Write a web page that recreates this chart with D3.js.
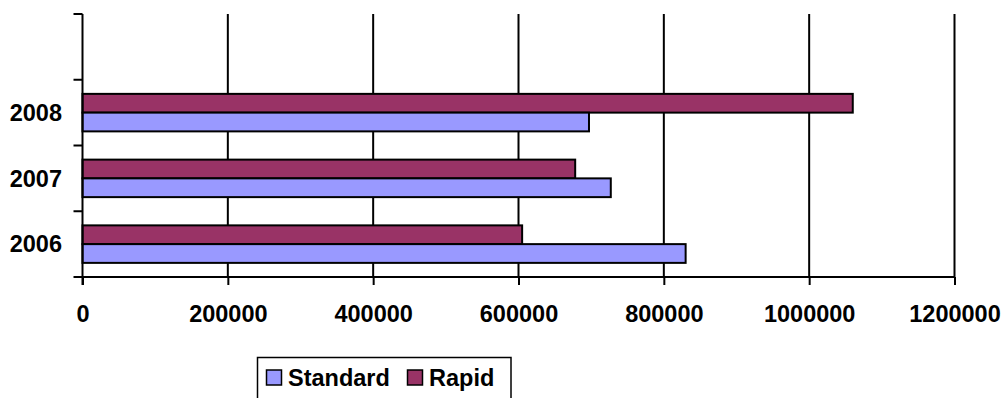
<!DOCTYPE html>
<html>
<head>
<meta charset="utf-8">
<script src="https://cdn.jsdelivr.net/npm/d3@7"></script>
<style>
  html, body { margin: 0; padding: 0; background: #fff; }
  svg { display: block; }
  text { font-family: Arial, "Liberation Sans", sans-serif; font-weight: bold; fill: #000; }
</style>
</head>
<body>
<svg id="chart" width="1003" height="398"></svg>
<script>
// Data (categories listed top to bottom; the top band is empty)
const categories = ["", "2008", "2007", "2006"];
const seriesNames = ["Rapid", "Standard"];
const standardValues = [null, 697000, 727000, 830000];
const rapidValues = [null, 1060000, 678000, 605000];
const xTicks = [0, 200000, 400000, 600000, 800000, 1000000, 1200000];
const legendNames = ["Standard", "Rapid"];
const colors = { Standard: "#9999FF", Rapid: "#993366" };

(function () {
const svg = d3.select("#chart");
const pLeft = 82.5, pRight = 954.5, pTop = 14, pBottom = 277;

const x = d3.scaleLinear().domain([0, 1200000]).range([pLeft, pRight]);
const y = d3.scaleBand().domain(categories).range([pTop, pBottom]).padding(0);
const inner = d3.scaleBand().domain(seriesNames).range([0, y.bandwidth()])
  .paddingInner(0).paddingOuter(0.753);

// Gridlines
svg.append("g").selectAll("line").data(xTicks.slice(1)).join("line")
  .attr("x1", d => x(d)).attr("x2", d => x(d))
  .attr("y1", pTop).attr("y2", pBottom)
  .attr("stroke", "#000").attr("stroke-width", 2);

// Bars
const values = { Standard: standardValues, Rapid: rapidValues };
const barData = [];
categories.forEach((c, i) => {
  seriesNames.forEach(s => {
    const v = values[s][i];
    if (v != null) barData.push({ c, s, v });
  });
});
svg.append("g").selectAll("rect").data(barData).join("rect")
  .attr("x", x(0))
  .attr("y", d => y(d.c) + inner(d.s))
  .attr("width", d => x(d.v) - x(0))
  .attr("height", inner.bandwidth())
  .attr("fill", d => colors[d.s])
  .attr("stroke", "#000").attr("stroke-width", 2);

// X axis
const xAxis = svg.append("g").attr("transform", `translate(0,${pBottom})`)
  .call(d3.axisBottom(x).tickValues(xTicks).tickSize(8).tickFormat(d3.format("d")));
xAxis.select(".domain").attr("stroke", "#000").attr("stroke-width", 2)
  .attr("d", `M${pLeft},0H${pRight}`);
xAxis.selectAll(".tick line").attr("stroke", "#000").attr("stroke-width", 2);
xAxis.selectAll(".tick text").attr("font-size", "23.5px")
  .attr("font-family", "Arial, 'Liberation Sans', sans-serif").attr("font-weight", "bold")
  .attr("fill", "#000").attr("dy", null).attr("y", 44.5);

// Y axis line
svg.append("line").attr("x1", pLeft).attr("x2", pLeft).attr("y1", pTop).attr("y2", pBottom + 8)
  .attr("stroke", "#000").attr("stroke-width", 2);
// Y ticks at band boundaries
const yBounds = categories.map(c => y(c)).concat([pBottom]);
svg.append("g").selectAll("line").data(yBounds).join("line")
  .attr("x1", pLeft - 9).attr("x2", pLeft)
  .attr("y1", d => d).attr("y2", d => d)
  .attr("stroke", "#000").attr("stroke-width", 2);
// Y labels
svg.append("g").selectAll("text").data(categories).join("text")
  .attr("x", 62).attr("y", d => y(d) + y.bandwidth() / 2)
  .attr("dy", "0.35em").attr("text-anchor", "end")
  .attr("font-size", "23.5px")
  .text(d => d);

// Legend
const lg = svg.append("g");
lg.append("rect").attr("x", 257.5).attr("y", 357.5).attr("width", 253.5).attr("height", 60)
  .attr("fill", "#fff").attr("stroke", "#000").attr("stroke-width", 1.5);
const legendX = [266.5, 407.5];
legendNames.forEach((n, i) => {
  lg.append("rect").attr("x", legendX[i]).attr("y", 370).attr("width", 15).attr("height", 15)
    .attr("fill", colors[n]).attr("stroke", "#000").attr("stroke-width", 1.5);
  lg.append("text").attr("x", legendX[i] + 21.5).attr("y", 386)
    .attr("font-size", "23.5px").text(n);
});
})();
</script>
</body>
</html>
